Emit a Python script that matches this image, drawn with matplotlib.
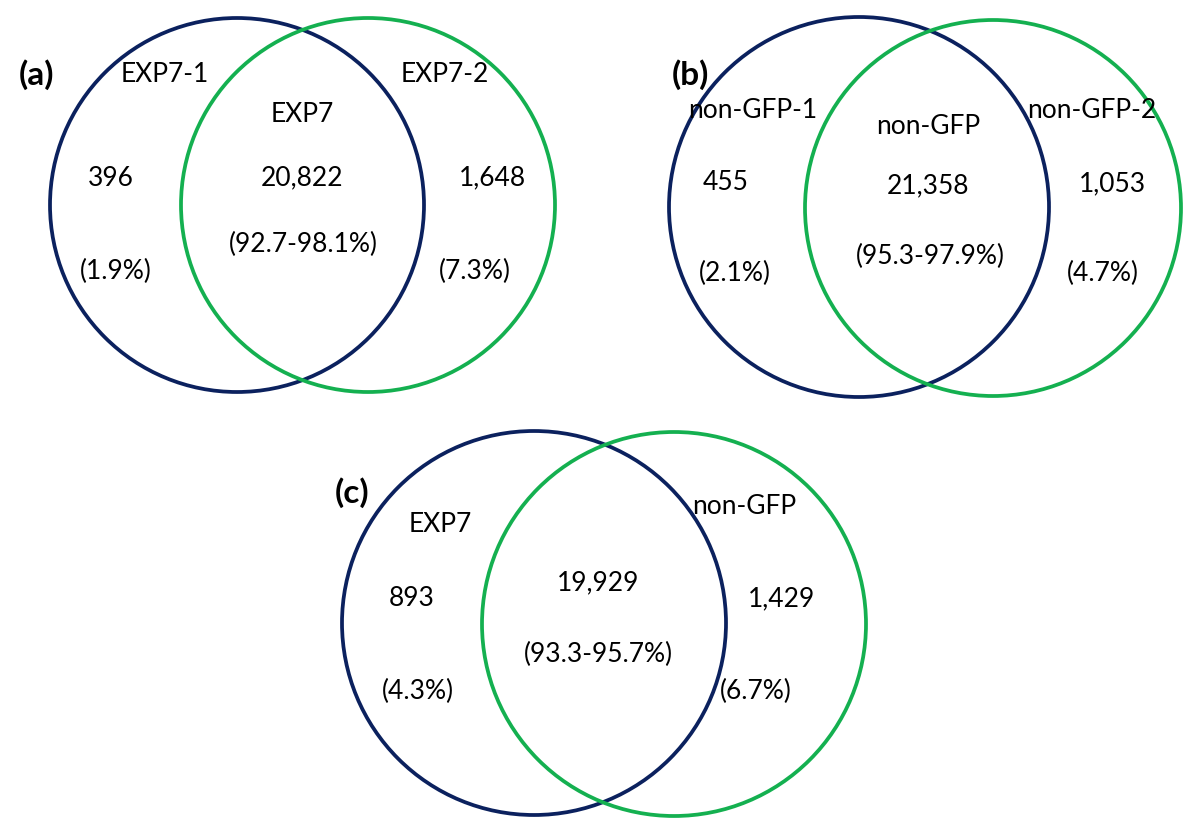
import matplotlib
matplotlib.use("Agg")
import matplotlib.pyplot as plt
from matplotlib.patches import Circle

plt.rcParams['font.family'] = ['Lato', 'DejaVu Sans']

# ---- data ----
panel_labels = ["(a)", "(b)", "(c)"]
left_names = ["EXP7-1", "non-GFP-1", "EXP7"]
right_names = ["EXP7-2", "non-GFP-2", "non-GFP"]
center_names = ["EXP7", "non-GFP", ""]
left_counts = ["396", "455", "893"]
shared_counts = ["20,822", "21,358", "19,929"]
right_counts = ["1,648", "1,053", "1,429"]
left_pct = ["(1.9%)", "(2.1%)", "(4.3%)"]
shared_pct = ["(92.7-98.1%)", "(95.3-97.9%)", "(93.3-95.7%)"]
right_pct = ["(7.3%)", "(4.7%)", "(6.7%)"]

NAVY = "#0B215E"
GREEN = "#14B050"

fig = plt.figure(figsize=(12, 8.32), dpi=100)
ax = fig.add_axes([0, 0, 1, 1])
ax.set_xlim(0, 1200)
ax.set_ylim(832, 0)
ax.set_aspect('equal')
ax.axis('off')

# layout per panel (pixel coords)
layout = [
    dict(lc=(237, 205), lr=187, rc=(368, 205), rr=187, lab=(37, 75),
         ln=(165, 75), rn=(445, 75), cn=(302, 115),
         lcnt=(111, 178), scnt=(302, 178), rcnt=(492, 178),
         lp=(116, 271), sp=(303, 244), rp=(475, 271)),
    dict(lc=(859, 207), lr=190, rc=(993, 208), rr=188, lab=(690, 75),
         ln=(753, 110), rn=(1092, 110), cn=(928, 127),
         lcnt=(726, 182), scnt=(928, 186), rcnt=(1112, 184),
         lp=(735, 273), sp=(930, 256), rp=(1103, 273)),
    dict(lc=(534, 623), lr=192, rc=(674, 624), rr=192, lab=(352, 493),
         ln=(440, 525), rn=(744, 506), cn=(598, 500),
         lcnt=(412, 599), scnt=(598, 583), rcnt=(782, 599),
         lp=(418, 691), sp=(598, 654), rp=(756, 691)),
]

FS = 19
for i, L in enumerate(layout):
    ax.add_patch(Circle(L['lc'], L['lr'], fill=False, ec=NAVY, lw=2.7))
    ax.add_patch(Circle(L['rc'], L['rr'], fill=False, ec=GREEN, lw=2.7))
    ax.text(*L['lab'], panel_labels[i], fontsize=24, fontweight='bold',
            ha='center', va='center')
    items = [
        ('ln', left_names[i]), ('rn', right_names[i]), ('cn', center_names[i]),
        ('lcnt', left_counts[i]), ('scnt', shared_counts[i]), ('rcnt', right_counts[i]),
        ('lp', left_pct[i]), ('sp', shared_pct[i]), ('rp', right_pct[i]),
    ]
    for key, txt in items:
        if txt:
            ax.text(*L[key], txt, fontsize=FS, ha='center', va='center')

fig.savefig("out.png", dpi=100)
